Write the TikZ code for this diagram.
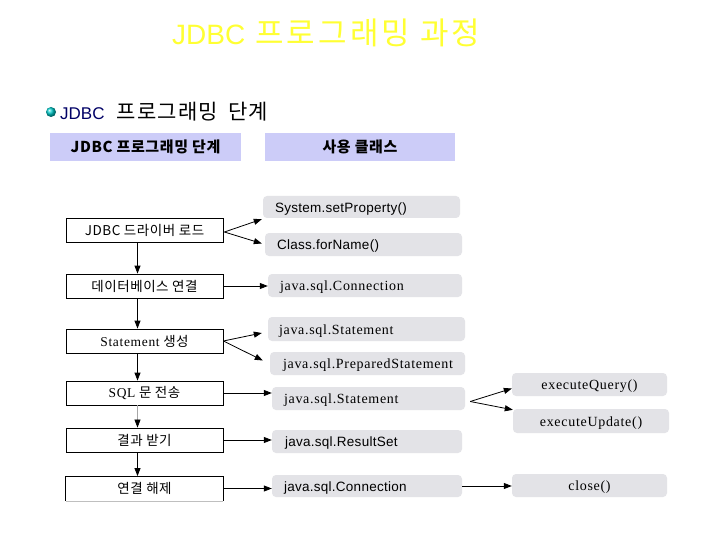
\documentclass[tikz,border=0pt]{standalone}
\usepackage{fontspec}
\setmainfont{Liberation Sans}
\newfontfamily\kr{Noto Sans CJK KR}
\newfontfamily\krT{Noto Sans CJK KR}[LetterSpace=10]
\newfontfamily\krB{Noto Sans CJK KR}[LetterSpace=6]
\newfontfamily\krS{Noto Sans CJK KR}[LetterSpace=4]
\newfontfamily\serifx{Liberation Serif}[LetterSpace=5]
\newfontfamily\sansx{Liberation Sans}[LetterSpace=2]
\usetikzlibrary{arrows.meta,calc}
\definecolor{ttl}{HTML}{FFFF33}
\definecolor{hdrc}{HTML}{CCCCF8}
\definecolor{grayc}{HTML}{E3E3E7}
\definecolor{navy}{HTML}{000066}
\begin{document}
\begin{tikzpicture}[x=1pt,y=-1pt,
  hdr/.style={fill=hdrc, minimum width=191pt, minimum height=28pt, inner sep=0pt,
    font=\krS\bfseries\fontsize{15}{17}\selectfont},
  stepbox/.style={draw=black, line width=0.8pt, fill=white, minimum width=157pt,
    minimum height=24pt, inner sep=0pt, font=\krS\fontsize{13.5}{15}\selectfont},
  cls/.style={fill=grayc, rounded corners=4pt, inner ysep=0pt, inner xsep=12pt,
    align=left, text height=11pt, text depth=1pt, font=\sansx\fontsize{13.5}{15}\selectfont},
  clss/.style={cls, font=\serifx\fontsize{14}{16}\selectfont},
  meth/.style={fill=grayc, rounded corners=4pt, inner sep=0pt, minimum width=155pt,
    minimum height=23pt, text height=11pt, text depth=1pt, font=\serifx\fontsize{14}{16}\selectfont},
  arr/.style={-{Triangle[length=8pt,width=6pt]}, line width=0.8pt},
]
\useasboundingbox (0,0) rectangle (720,540);
\fill[white] (0,0) rectangle (720,540);

% title
\node[anchor=west, text=ttl, font=\fontsize{28}{32}\selectfont, inner sep=0pt] (title) at (172,33)
  {JDBC\hspace{10pt}{\krT\fontsize{31}{34}\selectfont 프로그래밍}\hspace{10pt}{\krT\fontsize{31}{34}\selectfont 과정}};

% bullet line
\node[circle, ball color=cyan!60!teal, minimum size=10pt, inner sep=0pt] (bul) at (51,112) {};
\node[anchor=west, inner sep=0pt, font=\fontsize{21}{24}\selectfont] (sub) at (60,112)
  {\textcolor{navy}{\fontsize{17}{20}\selectfont JDBC}\hspace{12pt}{\krB 프로그래밍}\hspace{10pt}{\krB 단계}};

% headers
\node[hdr] (h1) at (145.5,147) {JDBC 프로그래밍 단계};
\node[hdr, minimum width=190pt] (h2) at (360,147) {사용 클래스};

% steps
\node[stepbox] (L1) at (144.5,230) {JDBC 드라이버 로드};
\node[stepbox] (L2) at (144.5,286) {데이터베이스 연결};
\node[stepbox] (L3) at (144.5,341) {{\serifx Statement} 생성};
\node[stepbox] (L4) at (144.5,393) {{\serifx SQL} 문 전송};
\node[stepbox] (L5) at (144.5,440) {결과 받기};
\node[stepbox, draw=none] (L6) at (144.5,488.5) {연결 해제};
\draw[line width=0.8pt] (L6.south west) -- (L6.north west) -- (L6.north east) -- (L6.south east);
\draw[line width=0.6pt, gray!50] (L6.south west) -- (L6.south east);

% classes
\node[cls, text width=173pt, minimum height=22pt] (R1) at (361.5,207) {System.setProperty()};
\node[cls, text width=173pt, minimum height=23pt] (R2) at (363.5,244.5) {Class.forName()};
\node[clss, text width=170pt, minimum height=23pt] (R3) at (365,285.5) {java.sql.Connection};
\node[clss, text width=175pt, minimum height=24pt, inner xsep=11pt] (R4) at (366.5,329) {java.sql.Statement};
\node[clss, text width=169pt, minimum height=23pt, inner xsep=13pt] (R5) at (367.5,363.5) {java.sql.PreparedStatement};
\node[clss, text width=169pt, minimum height=23pt] (R6) at (368.5,398.5) {java.sql.Statement};
\node[cls, text width=164pt, minimum height=23pt, inner xsep=13pt] (R7) at (367,441.5) {java.sql.ResultSet};
\node[cls, text width=166pt, minimum height=22pt, inner xsep=12pt] (R8) at (367,486) {java.sql.Connection};

% methods
\node[meth] (E1) at (589.5,384.5) {executeQuery()};
\node[meth, minimum width=156pt, minimum height=24pt] (E2) at (591,421) {executeUpdate()};
\node[meth] (E3) at (589.5,485.5) {close()};

% vertical flow
\draw[arr] ([xshift=-7pt]L1.south) -- ([xshift=-7pt]L2.north);
\draw[arr] ([xshift=-7pt]L2.south) -- ([xshift=-7pt]L3.north);
\draw[arr] ([xshift=-7pt]L3.south) -- ([xshift=-7pt]L4.north);
\draw[-{Triangle[length=8pt,width=6pt,color=black]}, line width=0.6pt, draw=gray!70] ([xshift=-7pt]L4.south) -- ([xshift=-7pt]L5.north);
\draw[arr] ([xshift=-7pt]L5.south) -- ([xshift=-7pt]L6.north);

% step -> class
\draw[arr] ([xshift=1pt,yshift=-2pt]L1.east) -- ([xshift=-1pt,yshift=-1pt]R1.south west);
\draw[arr] ([xshift=1pt,yshift=-2pt]L1.east) -- ([xshift=-3pt,yshift=1pt]R2.west);
\draw[arr] (L2.east) -- (L2.east -| R3.west);
\draw[arr] (L3.east) -- ([xshift=-6pt,yshift=-4pt]R4.west);
\draw[arr] (L3.east) -- ([xshift=-7pt,yshift=3pt]R5.west);
\draw[arr] (L4.east) -- (L4.east -| R6.west);
\draw[arr] (L5.east) -- (L5.east -| R7.west);
\draw[arr] (L6.east) -- (L6.east -| R8.west);

% class -> method
\draw[arr] ([xshift=5pt,yshift=-3pt]R6.east) -- ([yshift=-4pt]E1.west);
\draw[arr] ([xshift=5pt,yshift=-3pt]R6.east) -- ([yshift=-1pt]E2.north west);
\draw[arr] (R8.east) -- (R8.east -| E3.west);
\end{tikzpicture}
\end{document}
